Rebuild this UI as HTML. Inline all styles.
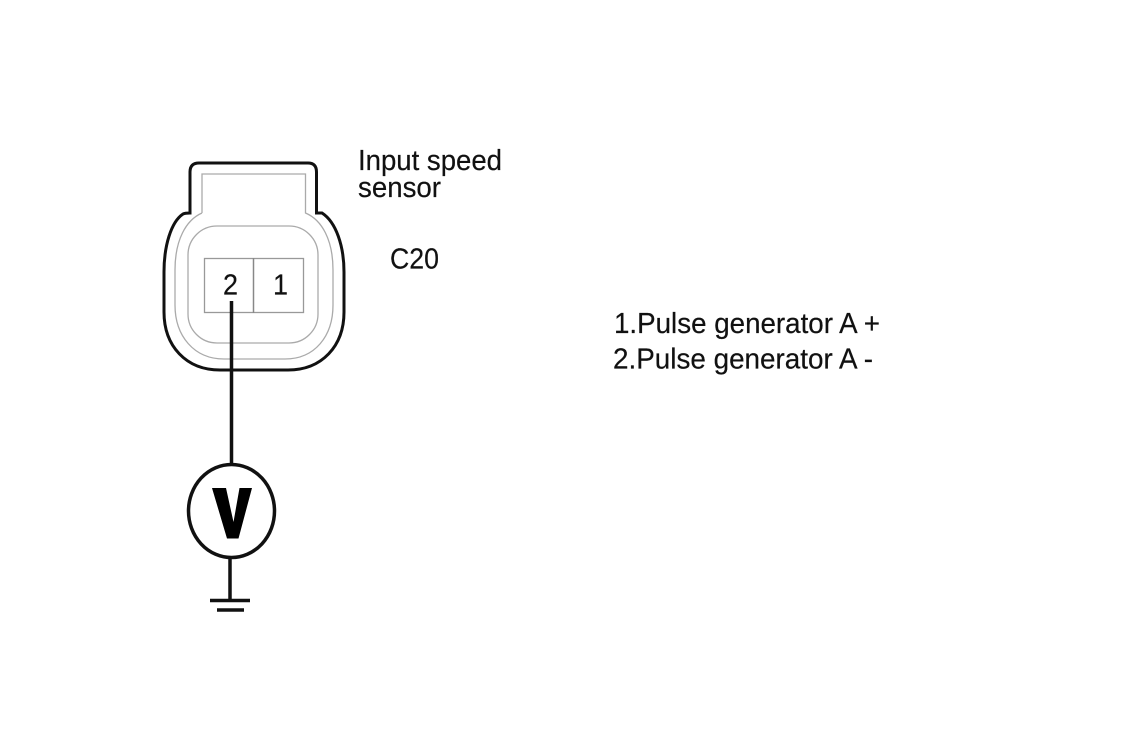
<!DOCTYPE html>
<html>
<head>
<meta charset="utf-8">
<style>
html,body{margin:0;padding:0;background:#fff;width:1134px;height:751px;overflow:hidden}
svg{display:block}
text{font-family:"Liberation Sans",sans-serif;fill:#111;font-size:29px;stroke:#111;stroke-width:.2px}
</style>
</head>
<body>
<svg width="1134" height="751" viewBox="0 0 1134 751" xmlns="http://www.w3.org/2000/svg">
<rect width="1134" height="751" fill="#fff"/>
<!-- outer shell -->
<path d="M190 213 V172 Q190 163 199 163 H308 Q316.500 163 316.500 172 V213 H322 C336 222 344 246 344 272 V312 C344 346 322 370 288 370 H220 C186 370 164 346 164 312 V272 C164 246 171 222 183 214 Q185 213 190 213 Z" fill="none" stroke="#111" stroke-width="3"/>
<!-- inner gray outline -->
<path d="M202 213 V174 H305.500 V213 C322 220 333 240 333 270 V305 C333 336 315 359 285 359 H224 C194 359 175 336 175 305 V270 C175 240 186 220 202 213" fill="none" stroke="#aaa" stroke-width="1.300"/>
<!-- inner rounded rect -->
<rect x="188" y="226" width="130" height="117" rx="29" ry="29" fill="none" stroke="#aaa" stroke-width="1.300"/>
<!-- pin box -->
<rect x="204.500" y="258.500" width="99" height="54" fill="none" stroke="#999" stroke-width="1.300"/>
<line x1="253.500" y1="258" x2="253.500" y2="313" stroke="#888" stroke-width="1.500"/>
<text x="223" y="294.500" textLength="15" lengthAdjust="spacingAndGlyphs">2</text>
<text x="273" y="294.500" textLength="15" lengthAdjust="spacingAndGlyphs">1</text>
<!-- wire -->
<line x1="231.500" y1="301" x2="231.500" y2="465" stroke="#111" stroke-width="3.500"/>
<!-- meter -->
<ellipse cx="231.500" cy="511" rx="43" ry="46.500" fill="#fff" stroke="#111" stroke-width="3.500"/>
<path d="M212 488 H226 L233.500 522 L239.500 488 H252 L238.500 538.500 H227 Z" fill="#000"/>
<!-- ground -->
<line x1="230" y1="558" x2="230" y2="601" stroke="#111" stroke-width="3.500"/>
<line x1="210" y1="600.500" x2="250" y2="600.500" stroke="#111" stroke-width="3.500"/>
<line x1="217" y1="610" x2="244" y2="610" stroke="#111" stroke-width="3.500"/>
<!-- labels -->
<text x="358" y="170" textLength="144" lengthAdjust="spacingAndGlyphs">Input speed</text>
<text x="358" y="197" textLength="83" lengthAdjust="spacingAndGlyphs">sensor</text>
<text x="390" y="268.500" textLength="49" lengthAdjust="spacingAndGlyphs">C20</text>
<text x="614" y="333" textLength="266" lengthAdjust="spacingAndGlyphs">1.Pulse generator A +</text>
<text x="613" y="368.500" textLength="260" lengthAdjust="spacingAndGlyphs">2.Pulse generator A -</text>
</svg>
</body>
</html>
